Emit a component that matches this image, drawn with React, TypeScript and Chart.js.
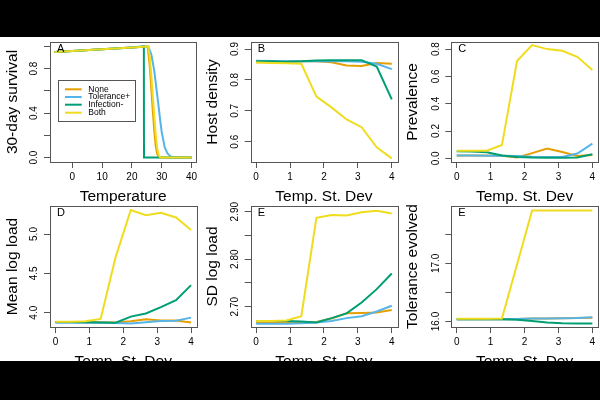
import React, { useEffect, useRef } from 'react';
import { Chart, registerables } from 'chart.js';

Chart.register(...registerables);
Chart.defaults.font.family = '"Liberation Sans", Arial, Helvetica, sans-serif';

// ---------- series names / colours ----------
const seriesNames = ['None', 'Tolerance+', 'Infection-', 'Both'];
const seriesColors = ['#E69F00', '#56B4E9', '#009E73', '#F0DC1E'];

// ---------- Panel A: 30-day survival vs temperature ----------
const tempNone = [-6, 0, 10, 20, 24, 25.3, 26, 26.5, 27, 27.5, 28, 28.5, 29, 29.5, 40];
const survNone = [0.95, 0.958, 0.975, 0.991, 0.998, 1.0, 0.82, 0.62, 0.42, 0.24, 0.1, 0.03, 0.005, 0, 0];
const tempTol = [-6, 0, 10, 20, 24, 25.5, 26.5, 27.5, 28, 28.5, 29, 29.5, 30, 31, 32, 33, 35, 40];
const survTol = [0.95, 0.958, 0.975, 0.991, 0.998, 1.0, 0.93, 0.78, 0.67, 0.56, 0.45, 0.33, 0.23, 0.09, 0.035, 0.01, 0, 0];
const tempInf = [-6, 0, 10, 20, 24, 24.05, 40];
const survInf = [0.95, 0.958, 0.975, 0.991, 1.0, 0, 0];
const tempBoth = [-6, 0, 10, 20, 24, 25.5, 26, 26.5, 27, 27.5, 28, 28.5, 29, 29.5, 40];
const survBoth = [0.95, 0.958, 0.975, 0.991, 0.998, 1.0, 0.9, 0.74, 0.55, 0.37, 0.2, 0.08, 0.02, 0, 0];

// ---------- x values for panels B-F ----------
const sdValues = [0, 0.444, 0.889, 1.333, 1.778, 2.222, 2.667, 3.111, 3.556, 4];

// ---------- Panel B: host density ----------
const densityNone = [0.857, 0.858, 0.859, 0.86, 0.86, 0.857, 0.847, 0.845, 0.855, 0.852];
const densityTol = [0.862, 0.861, 0.86, 0.86, 0.86, 0.86, 0.86, 0.859, 0.852, 0.835];
const densityInf = [0.86, 0.86, 0.859, 0.86, 0.863, 0.864, 0.864, 0.864, 0.843, 0.737];
const densityBoth = [0.856, 0.855, 0.854, 0.852, 0.746, 0.711, 0.672, 0.647, 0.582, 0.546];

// ---------- Panel C: prevalence ----------
const prevNone = [0.02, 0.02, 0.02, 0.018, 0.006, 0.038, 0.072, 0.046, 0.017, 0.024];
const prevTol = [0.02, 0.02, 0.019, 0.019, 0.017, 0.012, 0.01, 0.01, 0.035, 0.107];
const prevInf = [0.052, 0.05, 0.045, 0.02, 0.01, 0.005, 0.004, 0.004, 0.006, 0.03];
const prevBoth = [0.056, 0.056, 0.056, 0.097, 0.713, 0.83, 0.8, 0.788, 0.744, 0.647];

// ---------- Panel D: mean log load ----------
const loadNone = [3.882, 3.882, 3.88, 3.878, 3.876, 3.89, 3.915, 3.9, 3.9, 3.876];
const loadTol = [3.872, 3.872, 3.872, 3.872, 3.87, 3.862, 3.878, 3.893, 3.898, 3.937];
const loadInf = [3.882, 3.88, 3.878, 3.875, 3.873, 3.95, 3.99, 4.07, 4.16, 4.35];
const loadBoth = [3.886, 3.886, 3.89, 3.92, 4.71, 5.305, 5.24, 5.27, 5.21, 5.05];

// ---------- Panel E: SD log load ----------
const sdLoadNone = [2.666, 2.666, 2.666, 2.667, 2.668, 2.675, 2.686, 2.687, 2.688, 2.693];
const sdLoadTol = [2.664, 2.664, 2.664, 2.665, 2.667, 2.67, 2.676, 2.68, 2.69, 2.702];
const sdLoadInf = [2.67, 2.67, 2.67, 2.669, 2.667, 2.676, 2.686, 2.709, 2.737, 2.77];
const sdLoadBoth = [2.67, 2.67, 2.671, 2.68, 2.887, 2.893, 2.892, 2.899, 2.902, 2.896];

// ---------- Panel F: tolerance evolved ----------
const tolNone = [16.04, 16.04, 16.04, 16.04, 16.045, 16.05, 16.05, 16.055, 16.06, 16.065];
const tolTol = [16.04, 16.04, 16.04, 16.04, 16.045, 16.05, 16.05, 16.055, 16.06, 16.072];
const tolInf = [16.04, 16.04, 16.04, 16.04, 16.03, 16.01, 15.985, 15.97, 15.965, 15.965];
const tolBoth = [16.046, 16.046, 16.046, 16.05, 16.98, 17.91, 17.91, 17.91, 17.91, 17.91];

// ---------- ticks ----------
const tempTicks = [0, 10, 20, 30, 40];
const tempTickLabels = ['0', '10', '20', '30', '40'];
const sdTicks = [0, 1, 2, 3, 4];
const sdTickLabels = ['0', '1', '2', '3', '4'];
const survTicks = [0, 0.2, 0.4, 0.6, 0.8, 1.0];
const survTickLabels = ['0.0', '', '0.4', '', '0.8', ''];
const densityTicks = [0.6, 0.7, 0.8, 0.9];
const densityTickLabels = ['0.6', '0.7', '0.8', '0.9'];
const prevTicks = [0, 0.2, 0.4, 0.6, 0.8];
const prevTickLabels = ['0.0', '0.2', '0.4', '0.6', '0.8'];
const loadTicks = [4.0, 4.5, 5.0];
const loadTickLabels = ['4.0', '4.5', '5.0'];
const sdLoadTicks = [2.7, 2.75, 2.8, 2.85, 2.9];
const sdLoadTickLabels = ['2.70', '', '2.80', '', '2.90'];
const tolTicks = [16.0, 16.5, 17.0, 17.5];
const tolTickLabels = ['16.0', '', '17.0', ''];

type Series = { x: number[]; y: number[] };
type PanelCfg = {
  letter: string;
  xTitle: string;
  yTitle: string;
  xMin: number; xMax: number; yMin: number; yMax: number;
  xTicks: number[]; xLabels: string[];
  yTicks: number[]; yLabels: string[];
  series: Series[];
  left: number; top: number; w: number; h: number;
  yw: number; padTop: number; xh: number; yTickPad: number;
  legend?: boolean;
};

const BOX_W = 146.5;
const FRAME = '#555';
const FONT = '"Liberation Sans", Arial, Helvetica, sans-serif';
const TICK_FONT = 10;

const sdSeries = (a: number[], b: number[], c: number[], d: number[]): Series[] => [
  { x: sdValues, y: a }, { x: sdValues, y: b }, { x: sdValues, y: c }, { x: sdValues, y: d },
];

const TOP = { top: 0, h: 210, padTop: 42, xh: 48 };
const BOT = { top: 160, h: 215, padTop: 46, xh: 48 };

const panels: PanelCfg[] = [
  {
    letter: 'A', xTitle: 'Temperature', yTitle: '30-day survival',
    xMin: -7.5, xMax: 41.6, yMin: -0.04, yMax: 1.04,
    xTicks: tempTicks, xLabels: tempTickLabels, yTicks: survTicks, yLabels: survTickLabels,
    series: [
      { x: tempNone, y: survNone }, { x: tempTol, y: survTol },
      { x: tempInf, y: survInf }, { x: tempBoth, y: survBoth },
    ],
    left: 0, w: 200, yw: 50, yTickPad: 2.55, legend: true, ...TOP,
  },
  {
    letter: 'B', xTitle: 'Temp. St. Dev', yTitle: 'Host density',
    xMin: -0.16, xMax: 4.16, yMin: 0.5343, yMax: 0.9227,
    xTicks: sdTicks, xLabels: sdTickLabels, yTicks: densityTicks, yLabels: densityTickLabels,
    series: sdSeries(densityNone, densityTol, densityInf, densityBoth),
    left: 200, w: 200, yw: 50.7, yTickPad: 2.55, ...TOP,
  },
  {
    letter: 'C', xTitle: 'Temp. St. Dev', yTitle: 'Prevalence',
    xMin: -0.16, xMax: 4.16, yMin: -0.0271, yMax: 0.852,
    xTicks: sdTicks, xLabels: sdTickLabels, yTicks: prevTicks, yLabels: prevTickLabels,
    series: sdSeries(prevNone, prevTol, prevInf, prevBoth),
    left: 400, w: 200, yw: 51.3, yTickPad: 2.55, ...TOP,
  },
  {
    letter: 'D', xTitle: 'Temp. St. Dev', yTitle: 'Mean log load',
    xMin: -0.16, xMax: 4.16, yMin: 3.818, yMax: 5.356,
    xTicks: sdTicks, xLabels: sdTickLabels, yTicks: loadTicks, yLabels: loadTickLabels,
    series: sdSeries(loadNone, loadTol, loadInf, loadBoth),
    left: 0, w: 200, yw: 50, yTickPad: 2.55, ...BOT,
  },
  {
    letter: 'E', xTitle: 'Temp. St. Dev', yTitle: 'SD log load',
    xMin: -0.16, xMax: 4.16, yMin: 2.6573, yMax: 2.912,
    xTicks: sdTicks, xLabels: sdTickLabels, yTicks: sdLoadTicks, yLabels: sdLoadTickLabels,
    series: sdSeries(sdLoadNone, sdLoadTol, sdLoadInf, sdLoadBoth),
    left: 200, w: 200, yw: 50.7, yTickPad: -0.2, ...BOT,
  },
  {
    letter: 'E', xTitle: 'Temp. St. Dev', yTitle: 'Tolerance evolved',
    xMin: -0.16, xMax: 4.16, yMin: 15.906, yMax: 17.986,
    xTicks: sdTicks, xLabels: sdTickLabels, yTicks: tolTicks, yLabels: tolTickLabels,
    series: sdSeries(tolNone, tolTol, tolInf, tolBoth),
    left: 400, w: 200, yw: 51.3, yTickPad: -0.2, ...BOT,
  },
];

const framePlugin = {
  id: 'rframe',
  afterDatasetsDraw(chart: any, _args: any, opts: any) {
    const { ctx, chartArea: a } = chart;
    ctx.save();
    ctx.strokeStyle = FRAME;
    ctx.lineWidth = 1;
    ctx.strokeRect(Math.round(a.left) + 0.5, Math.round(a.top) + 0.5,
      Math.round(a.right - a.left), Math.round(a.bottom - a.top));
    ctx.fillStyle = '#000';
    ctx.font = `11px ${FONT}`;
    ctx.textAlign = 'left';
    ctx.textBaseline = 'top';
    ctx.fillText(opts.letter, a.left + 7, a.top + 1);
    if (opts.legend) {
      const bx = a.left + 8.3;
      const by = a.top + 38;
      ctx.strokeRect(Math.round(bx) + 0.5, Math.round(by) + 0.5, 77, 41);
      const rows = [47.3, 55, 62.7, 70.7];
      ctx.font = `8.5px ${FONT}`;
      ctx.textBaseline = 'middle';
      seriesNames.forEach((name, i) => {
        const yy = a.top + rows[i];
        ctx.strokeStyle = seriesColors[i];
        ctx.lineWidth = 2;
        ctx.beginPath();
        ctx.moveTo(a.left + 15, yy);
        ctx.lineTo(a.left + 31.7, yy);
        ctx.stroke();
        ctx.fillStyle = '#000';
        ctx.fillText(name, a.left + 38.3, yy);
      });
    }
    ctx.restore();
  },
};

function Panel({ cfg }: { cfg: PanelCfg }) {
  const ref = useRef<HTMLCanvasElement>(null);
  useEffect(() => {
    if (!ref.current) return;
    const orders = [3, 2, 1, 0];
    const gridOpts = {
      drawOnChartArea: false, drawTicks: true, tickLength: 6,
      color: FRAME, tickColor: FRAME, lineWidth: 1,
    };
    const chart = new Chart(ref.current, {
      type: 'line',
      data: {
        datasets: cfg.series.map((s, i) => ({
          label: seriesNames[i],
          data: s.x.map((xv, j) => ({ x: xv, y: s.y[j] })),
          borderColor: seriesColors[i],
          backgroundColor: seriesColors[i],
          borderWidth: 2,
          pointRadius: 0,
          tension: 0,
          fill: false,
          order: orders[i],
        })),
      },
      options: {
        animation: false,
        responsive: false,
        maintainAspectRatio: false,
        devicePixelRatio: 1,
        events: [],
        layout: { padding: { top: cfg.padTop, right: cfg.w - cfg.yw - BOX_W, bottom: 0, left: 0 } },
        plugins: {
          legend: { display: false },
          tooltip: { enabled: false },
          rframe: { letter: cfg.letter, legend: !!cfg.legend },
        } as any,
        scales: {
          x: {
            type: 'linear',
            position: 'bottom',
            min: cfg.xMin, max: cfg.xMax, bounds: 'data',
            afterBuildTicks: (s: any) => { s.ticks = cfg.xTicks.map((v) => ({ value: v })); },
            afterFit: (s: any) => { s.height = cfg.xh; },
            ticks: {
              autoSkip: false, minRotation: 0, maxRotation: 0, padding: 2.8,
              color: '#000', font: { size: TICK_FONT },
              callback: (_v: any, i: number) => cfg.xLabels[i],
            },
            grid: gridOpts,
            border: { display: false },
            title: {
              display: true, text: cfg.xTitle, color: '#000',
              font: { size: 15.5, lineHeight: 1 }, padding: { top: 0, bottom: 5.5 },
            },
          },
          y: {
            type: 'linear',
            position: 'left',
            min: cfg.yMin, max: cfg.yMax, bounds: 'data',
            afterBuildTicks: (s: any) => { s.ticks = cfg.yTicks.map((v) => ({ value: v })); },
            afterFit: (s: any) => { s.width = cfg.yw; },
            ticks: {
              autoSkip: false, minRotation: 90, maxRotation: 90, crossAlign: 'center',
              padding: cfg.yTickPad, color: '#000', font: { size: TICK_FONT },
              callback: (_v: any, i: number) => cfg.yLabels[i],
            },
            grid: gridOpts,
            border: { display: false },
            title: {
              display: true, text: cfg.yTitle, color: '#000',
              font: { size: 15.5, lineHeight: 1 }, padding: { top: 4.75, bottom: 0 },
            },
          },
        },
      } as any,
      plugins: [framePlugin as any],
    });
    return () => chart.destroy();
  }, [cfg]);
  return (
    <canvas
      ref={ref}
      width={cfg.w}
      height={cfg.h}
      style={{ position: 'absolute', left: cfg.left, top: cfg.top, width: cfg.w, height: cfg.h }}
    />
  );
}

export default function App() {
  return (
    <div style={{ position: 'absolute', left: 0, top: 0, width: 600, height: 400, background: '#fff', overflow: 'hidden' }}>
      {panels.map((p, i) => <Panel key={i} cfg={p} />)}
      <div style={{ position: 'absolute', left: 0, top: 0, width: 600, height: 37, background: '#000' }} />
      <div style={{ position: 'absolute', left: 0, top: 361, width: 600, height: 39, background: '#000' }} />
    </div>
  );
}
